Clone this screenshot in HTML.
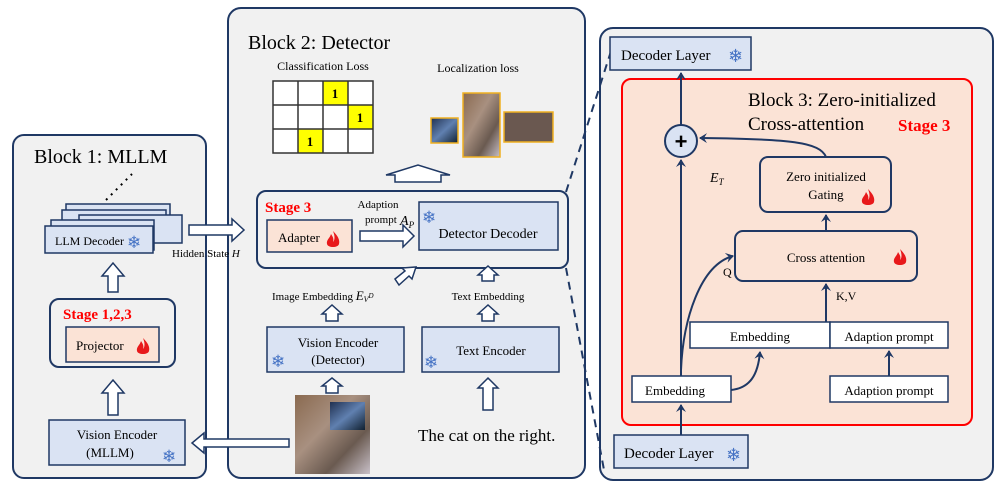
<!DOCTYPE html>
<html><head><meta charset="utf-8"><style>
body{margin:0;background:#fff}
svg{display:block;font-family:"Liberation Serif",serif}
.sf{font-family:"DejaVu Sans",sans-serif;fill:#4472c4;font-weight:bold}
</style></head><body>
<svg width="997" height="488" viewBox="0 0 997 488" xmlns="http://www.w3.org/2000/svg">
<defs>
<marker id="ah" markerWidth="10" markerHeight="10" refX="7" refY="5" orient="auto" markerUnits="userSpaceOnUse"><path d="M0,0 L8,5 L0,10 L3,5 Z" fill="#1f3864"/></marker>
<g id="flame"><path d="M0,-9 C5,-4 7,0 6,4 C5,8 -5,8 -6,4 C-7,0 -3,-2 -2,-6 C0,-3 1,-1 0,2 C2,0 2,-4 0,-9 Z" fill="#e8191b"/></g>
<linearGradient id="cat" x1="0" y1="0" x2="1" y2="1"><stop offset="0" stop-color="#8a6a50"/><stop offset=".4" stop-color="#a89080"/><stop offset=".7" stop-color="#6a5a50"/><stop offset="1" stop-color="#c8c0c8"/></linearGradient>
<linearGradient id="tv" x1="0" y1="0" x2="1" y2="1"><stop offset="0" stop-color="#203050"/><stop offset=".5" stop-color="#6080b0"/><stop offset="1" stop-color="#102030"/></linearGradient>
</defs>
<g stroke="#1f3864" stroke-width="2">
<rect x="13" y="135" width="193" height="343" rx="11" fill="#f1f1f1"/>
<rect x="228" y="8" width="357" height="470" rx="13" fill="#f1f1f1"/>
<rect x="600" y="28" width="393" height="452" rx="13" fill="#f1f1f1"/>
</g>
<text x="34" y="163" font-size="20">Block 1: MLLM</text>
<line x1="106" y1="200" x2="132" y2="174" stroke="#000" stroke-width="2" stroke-dasharray="2,5"/>
<g stroke="#1f3864" stroke-width="1.5" fill="#dae3f3">
<rect x="66" y="204" width="104" height="30"/>
<rect x="62" y="210" width="104" height="30"/>
<rect x="79" y="215" width="103" height="28"/>
<rect x="51" y="220" width="103" height="30"/>
<rect x="45" y="226" width="108" height="27"/>
</g>
<text x="55" y="245" font-size="12">LLM Decoder</text><text x="127" y="248" font-size="17" class="sf">❄</text>
<g fill="#fff" stroke="#1f3864" stroke-width="1.5">
<path d="M108,292 V276 H102 L113,263 L124,276 H118 V292 Z"/>
<path d="M108,415 V393 H102 L113,380 L124,393 H118 V415 Z"/>
<path d="M189,225 H232 V219 L244,230 L232,241 V235 H189 Z"/>
<path d="M289,439 H204 V433 L192,443 L204,453 V447 H289 Z"/>
</g>
<text x="172" y="257" font-size="11">Hidden State <tspan font-style="italic">H</tspan></text>
<rect x="50" y="299" width="125" height="68" rx="9" fill="#f1f1f1" stroke="#1f3864" stroke-width="2"/>
<text x="63" y="319" font-size="15" font-weight="bold" fill="#f00">Stage 1,2,3</text>
<rect x="66" y="327" width="93" height="35" fill="#fbe3d6" stroke="#1f3864" stroke-width="1.5"/>
<text x="76" y="350" font-size="13">Projector</text><use href="#flame" x="143" y="347"/>
<rect x="49" y="420" width="136" height="45" fill="#dae3f3" stroke="#1f3864" stroke-width="1.5"/>
<text x="117" y="439" font-size="13" text-anchor="middle">Vision Encoder</text>
<text x="110" y="457" font-size="13" text-anchor="middle">(MLLM)</text>
<text x="162" y="462" font-size="17" class="sf">❄</text>

<text x="248" y="49" font-size="20">Block 2: Detector</text>
<text x="323" y="70" font-size="12" text-anchor="middle">Classification Loss</text>
<text x="478" y="72" font-size="12" text-anchor="middle">Localization loss</text>
<rect x="273" y="81" width="100" height="72" fill="#fff"/>
<rect x="323" y="81" width="25" height="24" fill="#ff0"/>
<rect x="348" y="105" width="25" height="24" fill="#ff0"/>
<rect x="298" y="129" width="25" height="24" fill="#ff0"/>
<g stroke="#333" stroke-width="1.5" fill="none">
<rect x="273" y="81" width="100" height="72"/>
<line x1="298" y1="81" x2="298" y2="153"/><line x1="323" y1="81" x2="323" y2="153"/><line x1="348" y1="81" x2="348" y2="153"/>
<line x1="273" y1="105" x2="373" y2="105"/><line x1="273" y1="129" x2="373" y2="129"/>
</g>
<g font-size="13" font-weight="bold" text-anchor="middle"><text x="335" y="98">1</text><text x="360" y="122">1</text><text x="310" y="146">1</text></g>
<g stroke="#f0b020" stroke-width="1.5">
<rect x="431" y="118" width="27" height="25" fill="url(#tv)"/>
<rect x="463" y="93" width="37" height="64" fill="url(#cat)"/>
<rect x="504" y="112" width="49" height="30" fill="#6a5850"/>
</g>
<path d="M395,182 V175 H386 L418,165 L450,175 H441 V182 Z" fill="#fff" stroke="#1f3864" stroke-width="1.5"/>
<rect x="257" y="191" width="311" height="77" rx="9" fill="#f1f1f1" stroke="#1f3864" stroke-width="2"/>
<text x="265" y="212" font-size="15" font-weight="bold" fill="#f00">Stage 3</text>
<rect x="267" y="220" width="85" height="32" fill="#fbe3d6" stroke="#1f3864" stroke-width="1.5"/>
<text x="278" y="242" font-size="13">Adapter</text><use href="#flame" x="333" y="240"/>
<path d="M360,231 H403 V225 L414,236 L403,247 V241 H360 Z" fill="#fff" stroke="#1f3864" stroke-width="1.5"/>
<text x="378" y="208" font-size="11" text-anchor="middle">Adaption</text>
<text x="365" y="223" font-size="11">prompt</text>
<text x="400" y="225" font-size="14" font-style="italic">A<tspan font-size="9" dy="3">P</tspan></text>
<rect x="419" y="202" width="139" height="48" fill="#dae3f3" stroke="#1f3864" stroke-width="1.5"/>
<text x="422" y="223" font-size="17" class="sf">❄</text>
<text x="488" y="238" font-size="14" text-anchor="middle">Detector Decoder</text>
<g fill="#fff" stroke="#1f3864" stroke-width="1.5">
<path d="M482,281 V275 H478 L488,266 L498,275 H494 V281 Z"/>
<path d="M482,321 V314 H478 L488,305 L498,314 H494 V321 Z"/>
<path d="M326,321 V314 H322 L332,305 L342,314 H338 V321 Z"/>
<path d="M326,393 V386 H322 L332,378 L342,386 H338 V393 Z"/>
<path d="M483,410 V388 H478 L488,378 L498,388 H493 V410 Z"/>
<path d="M395,279 L405,271 L402,268 L416,267 L412,279 L409,276 L399,285 Z"/>
</g>
<text x="272" y="300" font-size="11">Image Embedding <tspan font-style="italic" font-size="13">E</tspan><tspan font-size="8" dy="2" font-style="italic">V</tspan><tspan font-size="7" dy="-4" font-style="italic">D</tspan></text>
<text x="488" y="300" font-size="11" text-anchor="middle">Text Embedding</text>
<rect x="267" y="327" width="137" height="45" fill="#dae3f3" stroke="#1f3864" stroke-width="1.5"/>
<text x="338" y="347" font-size="13" text-anchor="middle">Vision Encoder</text>
<text x="338" y="364" font-size="13" text-anchor="middle">(Detector)</text>
<text x="271" y="367" font-size="17" class="sf">❄</text>
<rect x="422" y="327" width="137" height="45" fill="#dae3f3" stroke="#1f3864" stroke-width="1.5"/>
<text x="491" y="355" font-size="13" text-anchor="middle">Text Encoder</text>
<text x="424" y="368" font-size="17" class="sf">❄</text>
<rect x="295" y="395" width="75" height="79" fill="url(#cat)"/>
<rect x="330" y="402" width="35" height="28" fill="url(#tv)"/>
<text x="418" y="441" font-size="17">The cat on the right.</text>
<g stroke="#1f3864" stroke-width="2" stroke-dasharray="8,6" fill="none">
<line x1="566" y1="192" x2="612" y2="48"/>
<line x1="566" y1="268" x2="604" y2="470"/>
</g>

<rect x="610" y="37" width="141" height="33" fill="#dae3f3" stroke="#1f3864" stroke-width="1.5"/>
<text x="621" y="60" font-size="15">Decoder Layer</text><text x="728" y="62" font-size="18" class="sf">❄</text>
<rect x="622" y="79" width="350" height="346" rx="9" fill="#fbe3d6" stroke="#f00" stroke-width="2"/>
<text x="748" y="106" font-size="19">Block 3: Zero-initialized</text>
<text x="748" y="130" font-size="19">Cross-attention</text>
<text x="898" y="131" font-size="17" font-weight="bold" fill="#f00">Stage 3</text>
<g stroke="#1f3864" stroke-width="2" fill="none">
<line x1="681" y1="125" x2="681" y2="73" marker-end="url(#ah)"/>
<line x1="681" y1="376" x2="681" y2="160" marker-end="url(#ah)"/>
<line x1="681" y1="435" x2="681" y2="405" marker-end="url(#ah)"/>
<path d="M826,157 C820,142 790,139 700,138" marker-end="url(#ah)"/>
<line x1="826" y1="231" x2="826" y2="215" marker-end="url(#ah)"/>
<line x1="826" y1="322" x2="826" y2="284" marker-end="url(#ah)"/>
<line x1="889" y1="376" x2="889" y2="351" marker-end="url(#ah)"/>
<path d="M681,370 C683,320 700,265 733,256" marker-end="url(#ah)"/>
<path d="M731,390 C750,388 758,375 760,352" marker-end="url(#ah)"/>
</g>
<circle cx="681" cy="141" r="16" fill="#dae3f3" stroke="#1f3864" stroke-width="2"/>
<text x="681" y="149" font-size="22" font-weight="bold" text-anchor="middle" font-family="Liberation Sans,sans-serif">+</text>
<text x="710" y="182" font-size="14" font-style="italic">E<tspan font-size="9" dy="3">T</tspan></text>
<rect x="760" y="157" width="131" height="55" rx="8" fill="#fbe3d6" stroke="#1f3864" stroke-width="2"/>
<text x="826" y="181" font-size="13" text-anchor="middle">Zero initialized</text>
<text x="826" y="199" font-size="13" text-anchor="middle">Gating</text><use href="#flame" x="868" y="198"/>
<rect x="735" y="231" width="182" height="50" rx="8" fill="#fbe3d6" stroke="#1f3864" stroke-width="2"/>
<text x="826" y="262" font-size="13" text-anchor="middle">Cross attention</text><use href="#flame" x="900" y="258"/>
<text x="723" y="276" font-size="12">Q</text>
<text x="836" y="300" font-size="12">K,V</text>
<rect x="690" y="322" width="140" height="26" fill="#fff" stroke="#1f3864" stroke-width="1.5"/>
<rect x="830" y="322" width="118" height="26" fill="#fff" stroke="#1f3864" stroke-width="1.5"/>
<text x="760" y="341" font-size="13" text-anchor="middle">Embedding</text>
<text x="889" y="341" font-size="13" text-anchor="middle">Adaption prompt</text>
<rect x="632" y="376" width="99" height="26" fill="#fff" stroke="#1f3864" stroke-width="1.5"/>
<text x="675" y="395" font-size="13" text-anchor="middle">Embedding</text>
<rect x="830" y="376" width="118" height="26" fill="#fff" stroke="#1f3864" stroke-width="1.5"/>
<text x="889" y="395" font-size="13" text-anchor="middle">Adaption prompt</text>
<rect x="614" y="435" width="134" height="33" fill="#dae3f3" stroke="#1f3864" stroke-width="1.5"/>
<text x="624" y="458" font-size="15">Decoder Layer</text><text x="726" y="461" font-size="18" class="sf">❄</text>
</svg>
</body></html>
